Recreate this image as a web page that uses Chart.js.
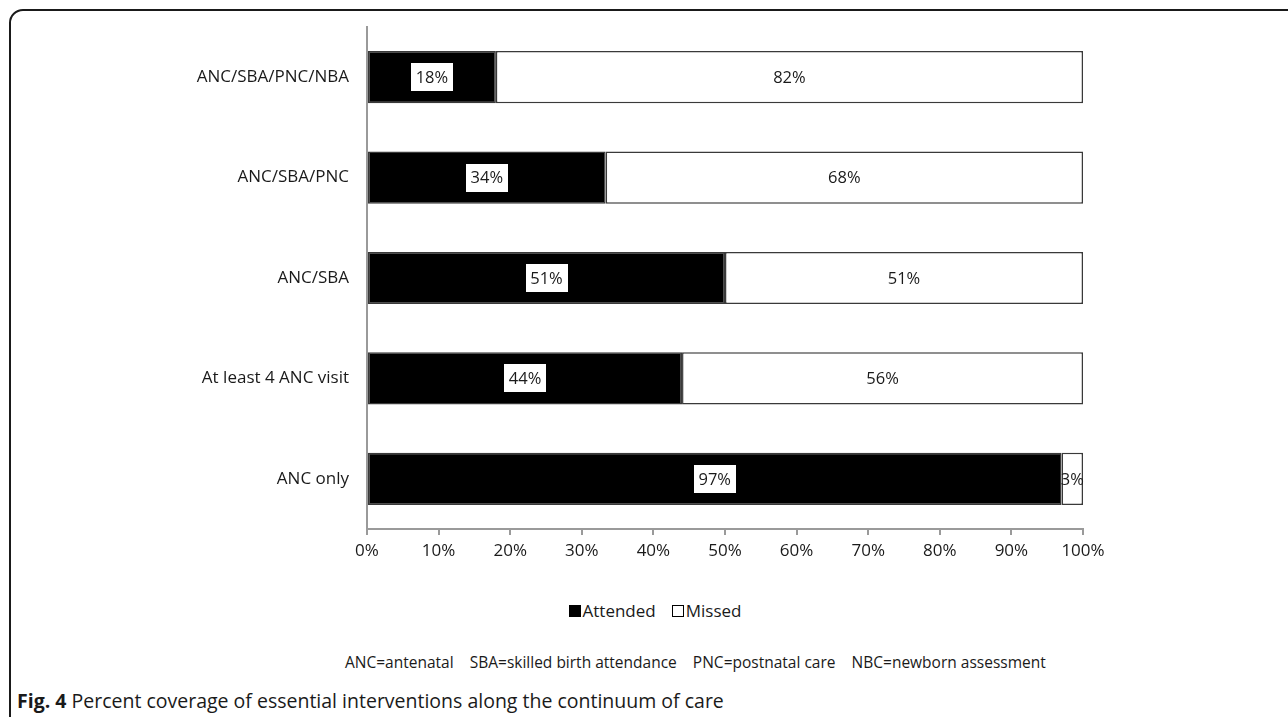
<!DOCTYPE html>
<html>
<head>
<meta charset="utf-8">
<script src="https://cdn.jsdelivr.net/npm/chart.js@4"></script>
<style>
  html, body { margin: 0; padding: 0; background: #fff; }
  body { width: 1288px; height: 717px; overflow: hidden; position: relative; font-family: "Open Sans", "Noto Sans", sans-serif; color: #1a1a1a; }
  #frame { position: absolute; left: 9px; top: 9px; width: 1320px; height: 740px; border: 2px solid #1a1a1a; border-radius: 14px; box-sizing: border-box; }
  #wrap { position: absolute; left: 0; top: 0; width: 1288px; height: 569px; }
  #legend { position: absolute; top: 600px; left: 0; width: 1310px; text-align: center; font-size: 17px; line-height: 22px; }
  #legend .item { display: inline-flex; align-items: center; margin: 0 8px; }
  #legend .sw { display: inline-block; width: 12px; height: 12px; box-sizing: border-box; margin-right: 2px; }
  #notes { position: absolute; top: 651px; left: 345px; font-size: 15.5px; line-height: 22px; white-space: pre; }
  #caption { position: absolute; top: 688px; left: 17px; font-size: 19.5px; line-height: 26px; white-space: nowrap; }
  #caption b { font-weight: 700; }
</style>
</head>
<body>
<div id="frame"></div>
<div id="wrap"><canvas id="chart" width="1288" height="569"></canvas></div>
<div id="legend"></div>
<div id="notes"></div>
<div id="caption"><b>Fig. 4</b> Percent coverage of essential interventions along the continuum of care</div>
<script>
// Stages of the continuum of care, top to bottom
const categories = ['ANC/SBA/PNC/NBA', 'ANC/SBA/PNC', 'ANC/SBA', 'At least 4 ANC visit', 'ANC only'];
// Reported percentages per stage
const attended = [18, 34, 51, 44, 97];
const missed = [82, 68, 51, 56, 3];
// Axis tick labels (0% .. 100%)
const xTicks = ['0%', '10%', '20%', '30%', '40%', '50%', '60%', '70%', '80%', '90%', '100%'];
const seriesNames = ['Attended', 'Missed'];
const abbreviations = ['ANC=antenatal', 'SBA=skilled birth attendance', 'PNC=postnatal care', 'NBC=newborn assessment'];

// Each bar is drawn as a share of its own total (100% stacked)
const share = (a, b) => a.map((v, i) => v / (a[i] + b[i]) * 100);
const reported = [attended, missed];

const FONT = '"Open Sans", "Noto Sans", sans-serif';

const valueLabels = {
  id: 'valueLabels',
  afterDatasetsDraw(chart) {
    const ctx = chart.ctx;
    ctx.save();
    ctx.font = '16.5px ' + FONT;
    ctx.textAlign = 'center';
    ctx.textBaseline = 'middle';
    chart.data.datasets.forEach((ds, di) => {
      chart.getDatasetMeta(di).data.forEach((bar, i) => {
        const txt = reported[di][i] + '%';
        const cx = (bar.x + bar.base) / 2;
        const cy = bar.y;
        const w = ctx.measureText(txt).width + 9;
        if (di === 0) {
          ctx.fillStyle = '#ffffff';
          ctx.fillRect(Math.round(cx - w / 2), Math.round(cy - 14), Math.round(w), 28);
        }
        ctx.fillStyle = '#1a1a1a';
        ctx.fillText(txt, cx, cy + 1);
      });
    });
    ctx.restore();
  }
};

new Chart(document.getElementById('chart'), {
  type: 'bar',
  data: {
    labels: categories,
    datasets: [
      { label: seriesNames[0], data: share(attended, missed), backgroundColor: '#000000', borderColor: '#3a3a3a', borderWidth: 1.5, borderSkipped: false },
      { label: seriesNames[1], data: share(missed, attended), backgroundColor: '#ffffff', borderColor: '#3a3a3a', borderWidth: 1.5, borderSkipped: false }
    ]
  },
  options: {
    indexAxis: 'y',
    responsive: false,
    animation: false,
    devicePixelRatio: 1,
    layout: { padding: { left: 0, right: 205, top: 27, bottom: 0 } },
    datasets: { bar: { categoryPercentage: 1, barPercentage: 0.52 } },
    plugins: { legend: { display: false }, tooltip: { enabled: false } },
    scales: {
      x: {
        stacked: true, min: 0, max: 100,
        afterFit(s) { s.height = 40; },
        afterBuildTicks(s) { s.ticks = xTicks.map((t, i) => ({ value: i * 10 })); },
        ticks: { callback: (v, i) => xTicks[i], color: '#1a1a1a', font: { family: FONT, size: 17 }, padding: 6, maxRotation: 0 },
        grid: { drawOnChartArea: false, drawTicks: true, tickLength: 6, color: '#9a9a9a', lineWidth: 2 },
        border: { display: true, color: '#9a9a9a', width: 2 }
      },
      y: {
        stacked: true,
        afterFit(s) { s.width = 367; },
        ticks: { color: '#1a1a1a', font: { family: FONT, size: 17 }, padding: 10 },
        grid: { display: false },
        border: { display: true, color: '#9a9a9a', width: 2 }
      }
    }
  },
  plugins: [valueLabels]
});

// Legend below the plot
const legend = document.getElementById('legend');
seriesNames.forEach((name, i) => {
  const item = document.createElement('span');
  item.className = 'item';
  const sw = document.createElement('span');
  sw.className = 'sw';
  sw.style.background = i === 0 ? '#000' : '#fff';
  sw.style.border = '1.5px solid #000';
  item.appendChild(sw);
  item.appendChild(document.createTextNode(name));
  legend.appendChild(item);
});

// Abbreviation key
document.getElementById('notes').textContent = abbreviations.join('    ');
</script>
</body>
</html>
